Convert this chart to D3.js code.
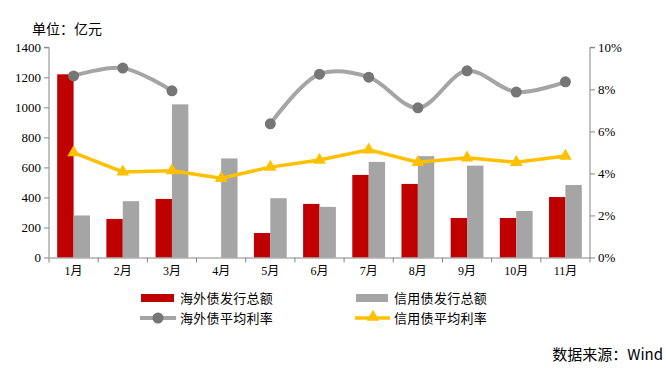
<!DOCTYPE html>
<html><head><meta charset="utf-8">
<script src="https://cdn.jsdelivr.net/npm/d3@7"></script>
<style>
body{margin:0;background:#fff;}
text{font-family:"Liberation Serif","Noto Sans CJK SC",serif;}
.cjk, .cjk text{font-family:"Noto Sans CJK SC","Noto Sans",sans-serif;}
</style></head>
<body><svg id="c" width="666" height="371"></svg>
<script>
const months = ["1月","2月","3月","4月","5月","6月","7月","8月","9月","10月","11月"];
const overseasAmount = [1220,257,390,0,163,357,550,490,263,263,403];
const creditAmount = [280,375,1020,660,395,337,637,675,612,310,483];
const overseasRate = [8.64,9.01,7.93,null,6.36,8.72,8.58,7.12,8.88,7.87,8.36];
const creditRate = [4.99,4.07,4.13,3.77,4.30,4.64,5.12,4.53,4.74,4.53,4.83];
const leftTicks = [0,200,400,600,800,1000,1200,1400];
const rightTicks = [0,2,4,6,8,10];
const legendNames = ["海外债发行总额","信用债发行总额","海外债平均利率","信用债平均利率"];

const svg = d3.select("#c");
const L=49, R=590, T=47.3, B=257.5;
const x = d3.scaleBand().domain(months).range([L,R]);
const y = d3.scaleLinear().domain([0,1400]).range([B,T]);
const y2 = d3.scaleLinear().domain([0,10]).range([B,T]);
const axisColor="#868686";

// bars
const bw = x.bandwidth()/3;
const g = svg.append("g");
g.selectAll(".r").data(months).enter().append("rect")
 .attr("x",d=>x(d)+x.bandwidth()/6).attr("width",bw)
 .attr("y",(d,i)=>y(overseasAmount[i])).attr("height",(d,i)=>B-y(overseasAmount[i]))
 .attr("fill","#c00000");
g.selectAll(".g").data(months).enter().append("rect")
 .attr("x",d=>x(d)+x.bandwidth()/6+bw).attr("width",bw)
 .attr("y",(d,i)=>y(creditAmount[i])).attr("height",(d,i)=>B-y(creditAmount[i]))
 .attr("fill","#a5a5a5");

// axes
const la = svg.append("g").attr("transform",`translate(${L},0)`)
 .call(d3.axisLeft(y).tickValues(leftTicks).tickSize(5).tickPadding(3).tickFormat(d3.format("d")));
const ra = svg.append("g").attr("transform",`translate(${R},0)`)
 .call(d3.axisRight(y2).tickValues(rightTicks).tickSize(5).tickPadding(3).tickFormat(d=>d+"%"));
const xa = svg.append("g").attr("transform",`translate(0,${B})`)
 .call(d3.axisBottom(x).tickSize(0).tickPadding(9));
// category boundary ticks
svg.append("g").selectAll("line").data(d3.range(months.length+1)).enter().append("line")
 .attr("x1",i=>L+i*x.step()).attr("x2",i=>L+i*x.step())
 .attr("y1",B).attr("y2",B+5).attr("stroke",axisColor);
[la,ra,xa].forEach(a=>{
  a.attr("font-family",null);
  a.selectAll("path,line").attr("stroke",axisColor);
  a.selectAll("text").attr("font-size",13).attr("fill","#000");
});
la.select(".domain").attr("d",`M-5,${T}H0V${B}`);
ra.select(".domain").attr("d",`M5,${T}H0V${B}`);
xa.selectAll("text").attr("font-size",12);

// overseas rate line
const cx = d=>x(d)+x.bandwidth()/2;
const pts = months.map((m,i)=>({m,v:overseasRate[i]}));
const line1 = d3.line().defined(d=>d.v!=null).x(d=>cx(d.m)).y(d=>y2(d.v)).curve(d3.curveCatmullRom.alpha(0.5));
svg.append("path").attr("d",line1(pts)).attr("fill","none").attr("stroke","#a5a5a5").attr("stroke-width",4);
svg.selectAll(".dot").data(pts.filter(d=>d.v!=null)).enter().append("circle")
 .attr("cx",d=>cx(d.m)).attr("cy",d=>y2(d.v)).attr("r",5.5).attr("fill","#767676");

// credit rate line
const pts2 = months.map((m,i)=>({m,v:creditRate[i]}));
const line2 = d3.line().x(d=>cx(d.m)).y(d=>y2(d.v));
svg.append("path").attr("d",line2(pts2)).attr("fill","none").attr("stroke","#ffc000").attr("stroke-width",3.5);
const tri = d3.symbol().type(d3.symbolTriangle).size(70);
svg.selectAll(".tri").data(pts2).enter().append("path")
 .attr("d",tri).attr("transform",d=>`translate(${cx(d.m)},${y2(d.v)})`).attr("fill","#ffc000");

// title
svg.append("text").attr("class","cjk").attr("x",32).attr("y",34).attr("font-size",14).text("单位：亿元");

// legend
const lg = svg.append("g").attr("class","cjk");
lg.append("rect").attr("x",141).attr("y",294).attr("width",33).attr("height",8).attr("fill","#c00000");
lg.append("rect").attr("x",356).attr("y",294).attr("width",32).attr("height",8).attr("fill","#a5a5a5");
lg.append("line").attr("x1",140).attr("x2",176).attr("y1",318).attr("y2",318).attr("stroke","#a5a5a5").attr("stroke-width",4);
lg.append("circle").attr("cx",158).attr("cy",318).attr("r",5.5).attr("fill","#767676");
lg.append("line").attr("x1",355).attr("x2",390).attr("y1",318).attr("y2",318).attr("stroke","#ffc000").attr("stroke-width",3.5);
lg.append("path").attr("d",tri).attr("transform","translate(373,317)").attr("fill","#ffc000");
const lpos=[[180,298],[394,298],[180,318],[394,318]];
legendNames.forEach((n,i)=>lg.append("text").attr("x",lpos[i][0]).attr("y",lpos[i][1]).attr("dy","0.35em")
 .attr("font-size",13).attr("letter-spacing",0.3).attr("class","cjk").text(n));

svg.append("text").attr("class","cjk").attr("x",663).attr("y",360).attr("text-anchor","end").attr("font-size",15).text("数据来源：Wind");
</script></body></html>
